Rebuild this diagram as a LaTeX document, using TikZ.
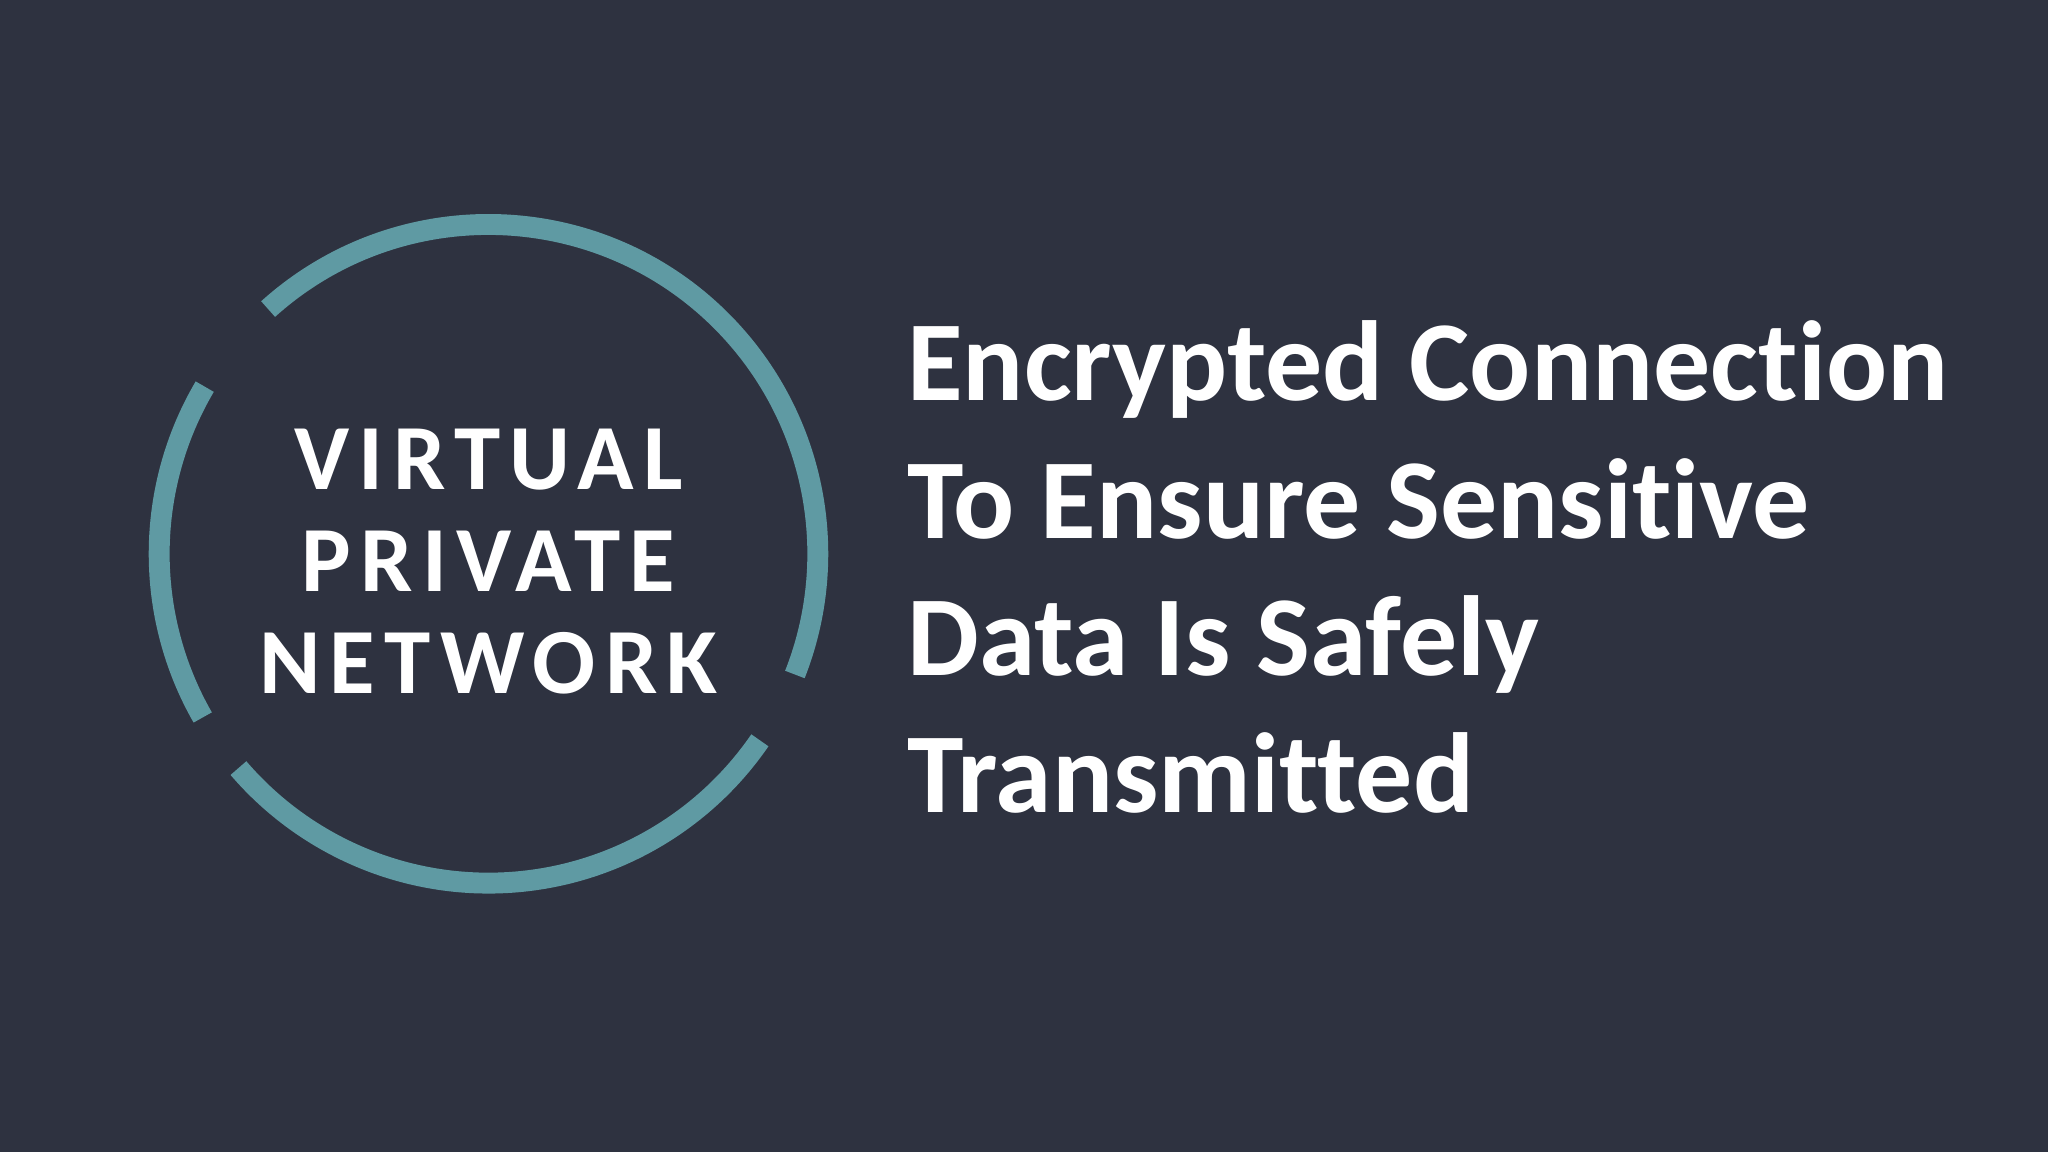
\documentclass[tikz,border=0pt]{standalone}
\usepackage{fontspec}
\setmainfont{Carlito}[Ligatures={NoCommon,NoRare,NoDiscretionary}]
\newfontfamily\spaced{Carlito}[LetterSpace=10,Ligatures={NoCommon}]
\definecolor{bgc}{HTML}{2E3240}
\definecolor{ring}{HTML}{5F9AA3}
\tikzset{ringarc/.style={draw=ring,line width=0.16cm},
 bigtext/.style={text=white,font=\bfseries\fontsize{24.8}{29.9}\selectfont,align=left,anchor=north west,inner sep=0pt},
 vpntext/.style={text=white,font=\spaced\bfseries\fontsize{20.3}{22.2}\selectfont,align=center,inner sep=0pt}}
\begin{document}
\begin{tikzpicture}[x=0.01cm,y=-0.01cm]
\fill[bgc] (0,0) rectangle (1568,882);
\useasboundingbox (0,0) rectangle (1568,882);
\coordinate (c) at (374,424);
\begin{scope}[shift={(c)},x=1cm,y=1cm]
\draw[ringarc] (132:2.52) arc[start angle=132,end angle=-21.5,radius=2.52];
\draw[ringarc] (-34.5:2.52) arc[start angle=-34.5,end angle=-139.4,radius=2.52];
\draw[ringarc] (209.8:2.52) arc[start angle=209.8,end angle=149.5,radius=2.52];
\end{scope}
\node[vpntext] (vpn) at (374,430) {VIRTUAL\\PRIVATE\\NETWORK};
\node[bigtext] (txt) at (694,245) {Encrypted Connection\\To Ensure Sensitive\\Data Is Safely\\Transmitted};
\end{tikzpicture}
\end{document}
